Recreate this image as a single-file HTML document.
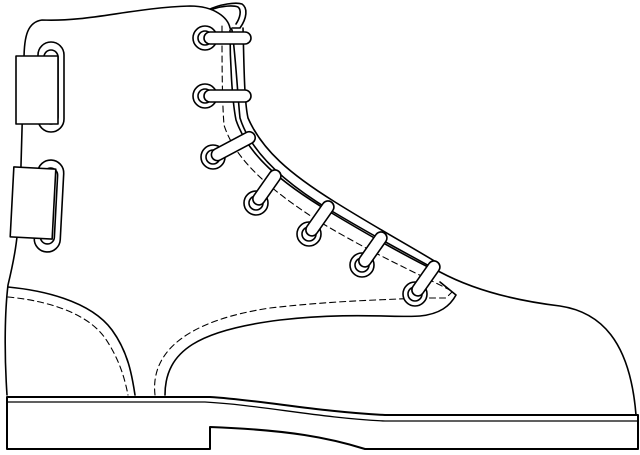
<!DOCTYPE html>
<html><head><style>html,body{margin:0;padding:0;background:#fff}svg{display:block}</style></head>
<body>
<svg width="640" height="455" viewBox="0 0 640 455" xmlns="http://www.w3.org/2000/svg" fill="none" stroke="#000" stroke-width="1.6" stroke-linejoin="round" stroke-linecap="round">
<path d="M208,10 C220,4 236,2 242,4 C248,8 247,18 240,28 L232,28" fill="#fff"/>
<path d="M213,9 C222,6 233,5 238,7 C242,10 240,18 236,24"/>
<path d="M7,395 C4,350 5,310 8,285 C14,260 18,240 20,200 L24,60 C24,35 28,22 42,20 C90,22 130,8 190,6 C215,6 228,18 230,28 L232,30 C236,60 238,100 240,118 C250,150 280,180 330,210 C380,240 410,255 440,272 C470,288 510,300 560,306 C600,312 630,340 636,415" fill="#fff"/>
<path d="M230,30 C230,60 232,100 236,120 C248,155 280,182 330,212 C380,242 410,258 434,270"/>
<path d="M243,28 C244,60 244,100 248,118 C262,150 290,174 335,202 C380,230 410,246 436,262"/>
<path d="M222,26 C222,60 222,100 224,125 C235,160 270,190 320,222 C370,252 410,270 450,290" stroke-dasharray="6,4" stroke-width="1.1"/>
<path d="M165,395 C165,350 200,330 280,320 C350,312 400,318 420,316 C440,314 450,306 456,295 L440,282"/>
<path d="M155,395 C150,350 190,320 270,308 C340,300 390,300 416,298 L446,298 L452,292" stroke-dasharray="6,4" stroke-width="1.1"/>
<path d="M8,287 C40,290 90,300 112,330 C128,352 132,375 135,395"/>
<path d="M8,297 C40,300 85,310 105,338 C120,360 125,380 128,395" stroke-dasharray="6,4" stroke-width="1.1"/>
<rect x="38" y="42" width="26" height="90" rx="13" fill="#fff"/>
<rect x="44" y="50" width="14" height="74" rx="7"/>
<rect x="16" y="56" width="42" height="68" fill="#fff"/>
<rect x="36" y="160" width="26" height="92" rx="13" fill="#fff" transform="rotate(3 49 206)"/>
<rect x="42" y="168" width="14" height="76" rx="7" transform="rotate(3 49 206)"/>
<rect x="12" y="168" width="42" height="70" fill="#fff" transform="rotate(3 33 203)"/>
<g fill="#fff">
<circle cx="205" cy="38" r="12"/><circle cx="205" cy="38" r="7"/>
<rect x="204" y="32" width="47" height="12" rx="6"/>
<circle cx="205" cy="96" r="12"/><circle cx="205" cy="96" r="7"/>
<rect x="204" y="90" width="47" height="12" rx="6"/>
<circle cx="213" cy="157" r="12"/><circle cx="213" cy="157" r="7"/>
<rect x="212" y="151" width="48" height="12" rx="6" transform="rotate(-28 213 157)"/>
<circle cx="256" cy="203" r="12"/><circle cx="256" cy="203" r="7"/>
<rect x="255" y="197" width="40" height="12" rx="6" transform="rotate(-55 256 203)"/>
<circle cx="309" cy="234" r="12"/><circle cx="309" cy="234" r="7"/>
<rect x="308" y="228" width="40" height="12" rx="6" transform="rotate(-55 309 234)"/>
<circle cx="362" cy="265" r="12"/><circle cx="362" cy="265" r="7"/>
<rect x="361" y="259" width="40" height="12" rx="6" transform="rotate(-55 362 265)"/>
<circle cx="415" cy="294" r="12"/><circle cx="415" cy="294" r="7"/>
<rect x="414" y="288" width="40" height="12" rx="6" transform="rotate(-55 415 294)"/>
</g>
<path d="M7,397 L210,397 C260,400 320,412 385,415 L638,415 L638,449 L365,449 C330,438 290,430 210,427 L210,449 L7,449 Z" fill="#fff" stroke-width="2"/>
<path d="M8,402 L205,402 C260,405 320,418 385,421 L637,421" stroke-width="1.3"/>
</svg>
</body></html>
